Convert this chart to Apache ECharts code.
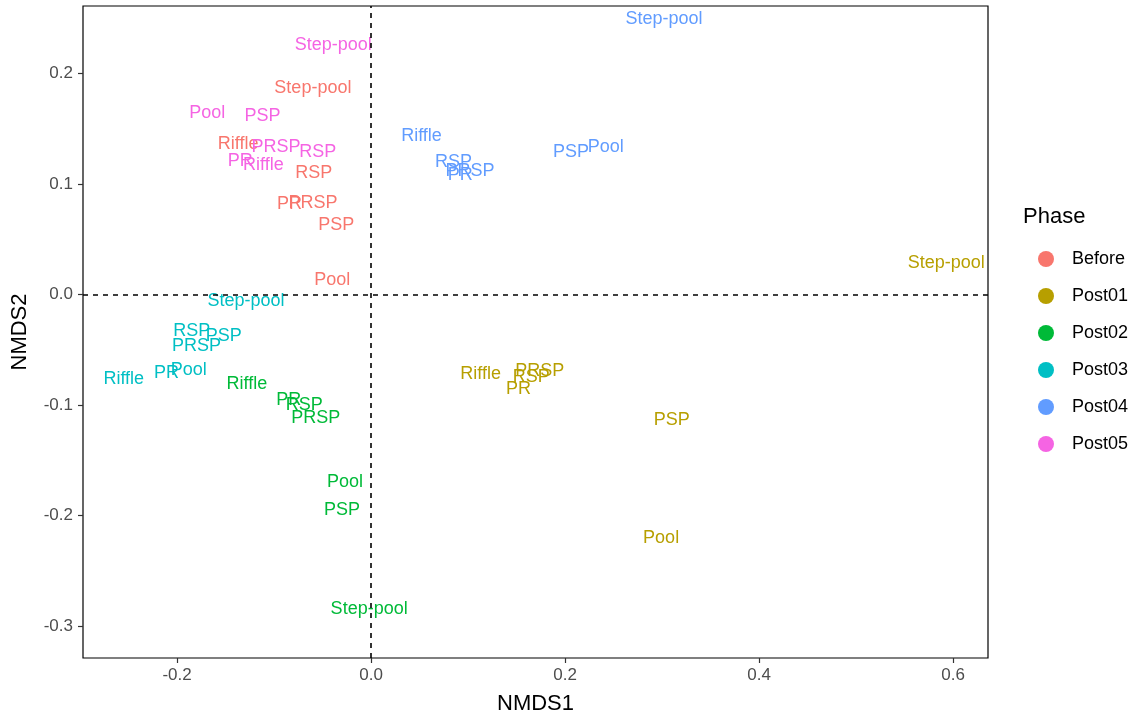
<!DOCTYPE html>
<html><head><meta charset="utf-8">
<script src="https://cdn.jsdelivr.net/npm/echarts@6/dist/echarts.min.js"></script>
<style>html,body{margin:0;padding:0;background:#fff}#c{width:1133px;height:715px}</style>
</head><body><div id="c"></div>
<script>
const phases = ["Before", "Post01", "Post02", "Post03", "Post04", "Post05"];
const colors = ["#F8766D", "#B79F00", "#00BA38", "#00BFC4", "#619CFF", "#F564E3"];
const xTicks = [-0.2, 0.0, 0.2, 0.4, 0.6];
const yTicks = [-0.3, -0.2, -0.1, 0.0, 0.1, 0.2];

const beforeLabels = ["Step-pool", "Riffle", "RSP", "PR", "PRSP", "PSP", "Pool"];
const beforeX = [-0.060, -0.137, -0.059, -0.084, -0.060, -0.036, -0.040];
const beforeY = [0.187, 0.136, 0.110, 0.082, 0.083, 0.063, 0.013];

const post01Labels = ["Step-pool", "Riffle", "PRSP", "RSP", "PR", "PSP", "Pool"];
const post01X = [0.593, 0.113, 0.174, 0.165, 0.152, 0.310, 0.299];
const post01Y = [0.028, -0.072, -0.069, -0.075, -0.086, -0.114, -0.220];

const post02Labels = ["Riffle", "PR", "RSP", "PRSP", "Pool", "PSP", "Step-pool"];
const post02X = [-0.128, -0.085, -0.069, -0.057, -0.027, -0.030, -0.002];
const post02Y = [-0.081, -0.096, -0.100, -0.112, -0.170, -0.195, -0.285];

const post03Labels = ["Step-pool", "RSP", "PSP", "PRSP", "Pool", "PR", "Riffle"];
const post03X = [-0.129, -0.185, -0.152, -0.180, -0.188, -0.211, -0.255];
const post03Y = [-0.006, -0.033, -0.038, -0.047, -0.068, -0.071, -0.077];

const post04Labels = ["Step-pool", "Riffle", "RSP", "PRSP", "PR", "PSP", "Pool"];
const post04X = [0.302, 0.052, 0.085, 0.102, 0.092, 0.206, 0.242];
const post04Y = [0.249, 0.143, 0.120, 0.112, 0.108, 0.129, 0.133];

const post05Labels = ["Step-pool", "Pool", "PSP", "PRSP", "RSP", "PR", "Riffle"];
const post05X = [-0.039, -0.169, -0.112, -0.098, -0.055, -0.135, -0.111];
const post05Y = [0.226, 0.164, 0.161, 0.133, 0.129, 0.121, 0.117];

const groups = [
  [beforeLabels, beforeX, beforeY],
  [post01Labels, post01X, post01Y],
  [post02Labels, post02X, post02Y],
  [post03Labels, post03X, post03Y],
  [post04Labels, post04X, post04Y],
  [post05Labels, post05X, post05Y]
];

const FONT = "Liberation Sans, Arial, sans-serif";
const chart = echarts.init(document.getElementById('c'), null, {renderer: 'canvas'});

const series = groups.map((g, i) => ({
  name: phases[i],
  type: 'scatter',
  symbol: 'circle',
  symbolSize: 0,
  itemStyle: {color: colors[i], opacity: 1},
  label: {
    show: true, position: 'inside', formatter: p => p.data[2],
    color: colors[i], fontSize: 18, fontFamily: FONT, opacity: 1
  },
  emphasis: {disabled: true},
  data: g[0].map((lab, k) => [g[1][k], g[2][k], lab]),
  z: 3
}));
series.push({
  type: 'scatter', data: [], silent: true,
  markLine: {
    silent: true, symbol: 'none',
    label: {show: false},
    lineStyle: {color: '#000', type: [5, 5], width: 1.6, opacity: 1},
    data: [{xAxis: 0}, {yAxis: 0}]
  }
});

chart.setOption({
  animation: false,
  backgroundColor: '#fff',
  grid: {left: 83, top: 6, right: 145, bottom: 57, outerBoundsMode: 'none', containLabel: false, show: true, borderColor: '#000', borderWidth: 1.2, backgroundColor: 'transparent'},
  xAxis: {
    type: 'value', min: -0.297, max: 0.636,
    name: 'NMDS1', nameLocation: 'middle', nameGap: 35,
    nameTextStyle: {fontSize: 22, color: '#000', fontFamily: FONT},
    axisLine: {show: false, onZero: false},
    splitLine: {show: false},
    axisTick: {show: true, length: 5, lineStyle: {color: '#333', width: 1.2}, customValues: xTicks},
    axisLabel: {fontSize: 17, color: '#4D4D4D', fontFamily: FONT, margin: 9, customValues: xTicks, formatter: v => v.toFixed(1)}
  },
  yAxis: {
    type: 'value', min: -0.329, max: 0.261,
    name: 'NMDS2', nameLocation: 'middle', nameGap: 52, nameRotate: 90,
    nameTextStyle: {fontSize: 22, color: '#000', fontFamily: FONT},
    axisLine: {show: false, onZero: false},
    splitLine: {show: false},
    axisTick: {show: true, length: 5, lineStyle: {color: '#333', width: 1.2}, customValues: yTicks},
    axisLabel: {fontSize: 17, color: '#4D4D4D', fontFamily: FONT, margin: 10, customValues: yTicks, formatter: v => v.toFixed(1)}
  },
  legend: {
    orient: 'vertical', left: 1033, top: 245,
    icon: 'circle', itemWidth: 16, itemHeight: 16, itemGap: 19,
    selectedMode: false,
    textStyle: {fontSize: 18, color: '#000', fontFamily: FONT, padding: [0, 0, 0, 13]},
    data: phases.map((p, i) => ({name: p, itemStyle: {color: colors[i], opacity: 1}}))
  },
  graphic: [{
    type: 'text', left: 1023, top: 206,
    style: {text: 'Phase', fontSize: 22, fill: '#000', fontFamily: FONT}
  }],
  series: series
});
</script></body></html>
